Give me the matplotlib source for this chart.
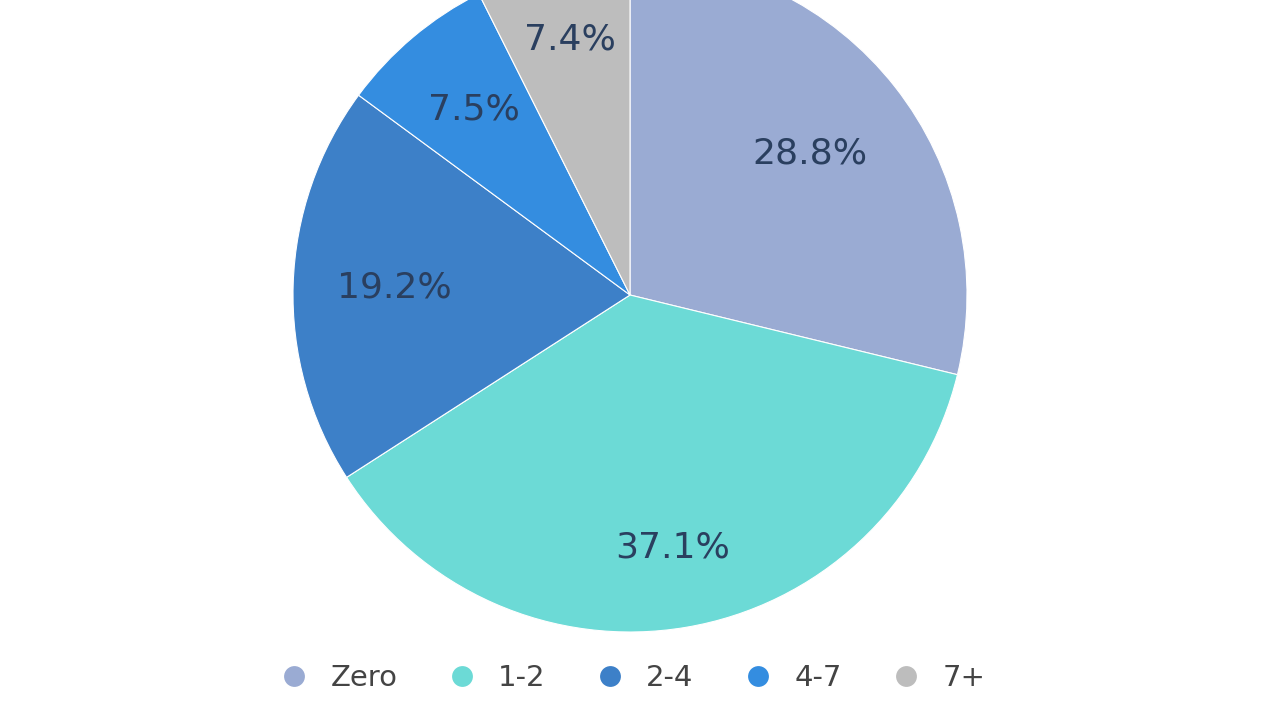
import matplotlib.pyplot as plt
from matplotlib.lines import Line2D
import numpy as np

labels = ['Zero', '1-2', '2-4', '4-7', '7+']
values = [28.8, 37.1, 19.2, 7.5, 7.4]
colors = ['#9aabd3', '#6cdad6', '#3d80c8', '#348de0', '#bdbdbd']
label_dist = [0.68, 0.76, 0.70, 0.72, 0.78]
text_color = '#2a3f5f'

fig = plt.figure(figsize=(12.8, 7.2), dpi=100)
ax = fig.add_axes([0, 0, 1, 1])

cx, cy, r = 630, 720 - 295, 337
wedges, _ = ax.pie(values, colors=colors, startangle=90, counterclock=False,
                   center=(cx, cy), radius=r,
                   wedgeprops=dict(edgecolor='white', linewidth=0.8))
ax.set_xlim(0, 1280)
ax.set_ylim(0, 720)
ax.set_aspect('equal')
ax.axis('off')

# percentage labels inside each slice
for w, v, d in zip(wedges, values, label_dist):
    mid = np.deg2rad((w.theta1 + w.theta2) / 2)
    ax.text(cx + d * r * np.cos(mid), cy + d * r * np.sin(mid), f'{v}%',
            ha='center', va='center', fontsize=26, color=text_color)

handles = [Line2D([], [], marker='o', linestyle='', markersize=15,
                  markerfacecolor=c, markeredgecolor='none') for c in colors]
fig.legend(handles, labels, loc='center', bbox_to_anchor=(0.494, 1 - 678 / 720),
           ncol=5, frameon=False, fontsize=21, labelcolor='#444444',
           handlelength=1.0, handletextpad=0.75, columnspacing=1.7)

fig.savefig('out.png', dpi=100)
